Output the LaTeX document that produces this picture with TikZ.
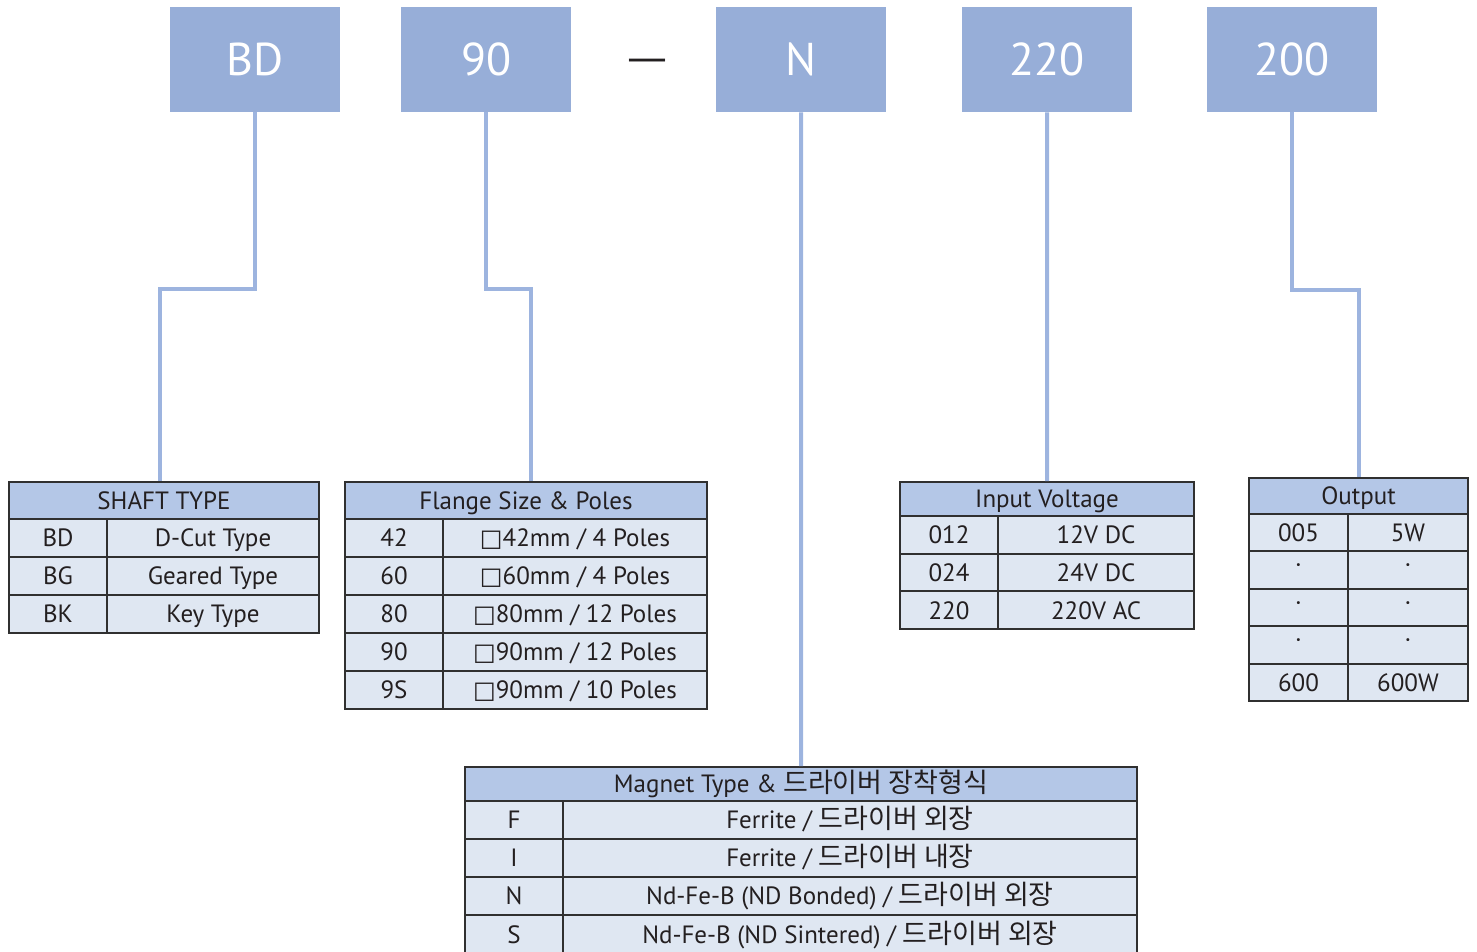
\documentclass[tikz,border=0pt]{standalone}
\usepackage{fontspec}
\setmainfont{PT Sans}
\newfontfamily\krf{Noto Sans CJK KR}
\newfontfamily\symf{DejaVu Sans}
\definecolor{topc}{HTML}{97AED8}
\definecolor{linec}{HTML}{9DB4DF}
\definecolor{hdrc}{HTML}{B4C7E7}
\definecolor{rowc}{HTML}{DFE7F2}
\definecolor{bordc}{HTML}{303030}
\definecolor{txtc}{HTML}{231F20}
\newcommand\kr[1]{{\krf\fontsize{27}{27}\selectfont #1}}
\newcommand\sqr{{\symf\fontsize{24}{24}\selectfont □}}
\newcommand\mdot{\raisebox{6pt}{·}}
% row: name, x, y, w1, w2, h, left text, right text
\newcommand\trow[8]{%
  \node[rcell,minimum width=#4pt,minimum height=#6pt] (#1a) at (#2,#3) {#7};
  \node[rcell,minimum width=#5pt,minimum height=#6pt] (#1b) at ({#2+#4},#3) {#8};}
\begin{document}
\begin{tikzpicture}[x=1pt,y=-1pt,
  topbox/.style={fill=topc, text=white, minimum width=170pt, minimum height=105pt,
    inner sep=0pt, anchor=north west, text height=31pt, text depth=0pt,
    font=\fontsize{46}{46}\selectfont},
  conn/.style={draw=linec, line width=4pt},
  hcell/.style={draw=bordc, fill=hdrc, line width=2pt, inner sep=0pt, anchor=north west,
    text=txtc, text height=17.5pt, text depth=0pt, font=\fontsize{25}{25}\selectfont},
  rcell/.style={hcell, fill=rowc}]
\useasboundingbox (0,0) rectangle (1477,951);

% top code boxes
\node[topbox] (bd) at (170,7) {BD};
\node[topbox] (n90) at (401,7) {90};
\node[text=txtc, inner sep=0pt, text height=0pt, text depth=0pt, font=\symf\fontsize{40}{40}\selectfont] (dash) at (647,71) {—};
\node[topbox] (nn) at (716,7) {N};
\node[topbox] (n220) at (962,7) {220};
\node[topbox] (n200) at (1207,7) {200};

% SHAFT TYPE
\node[hcell,minimum width=310pt,minimum height=37pt] (sh) at (8,481) {SHAFT TYPE};
\trow{sa}{8}{518}{98}{212}{38}{BD}{D-Cut Type}
\trow{sb}{8}{556}{98}{212}{38}{BG}{Geared Type}
\trow{sc}{8}{594}{98}{212}{38}{BK}{Key Type}

% Flange
\node[hcell,minimum width=362pt,minimum height=37pt] (fl) at (344,481) {Flange Size \& Poles};
\trow{fa}{344}{518}{98}{264}{38}{42}{\sqr42mm / 4 Poles}
\trow{fb}{344}{556}{98}{264}{38}{60}{\sqr60mm / 4 Poles}
\trow{fc}{344}{594}{98}{264}{38}{80}{\sqr80mm / 12 Poles}
\trow{fd}{344}{632}{98}{264}{38}{90}{\sqr90mm / 12 Poles}
\trow{fe}{344}{670}{98}{264}{38}{9S}{\sqr90mm / 10 Poles}

% Input voltage
\node[hcell,minimum width=294pt,minimum height=34pt] (iv) at (899,481) {Input Voltage};
\trow{ia}{899}{515}{98}{196}{37.7}{012}{12V DC}
\trow{ib}{899}{552.7}{98}{196}{37.7}{024}{24V DC}
\trow{ic}{899}{590.4}{98}{196}{37.7}{220}{220V AC}

% Output
\node[hcell,minimum width=219pt,minimum height=36pt] (op) at (1248,477) {Output};
\trow{oa}{1248}{513}{99}{120}{37.4}{005}{5W}
\trow{ob}{1248}{550.4}{99}{120}{37.4}{\mdot}{\mdot}
\trow{oc}{1248}{587.8}{99}{120}{37.4}{\mdot}{\mdot}
\trow{od}{1248}{625.2}{99}{120}{37.4}{\mdot}{\mdot}
\trow{oe}{1248}{662.6}{99}{120}{37.4}{600}{600W}

% Magnet type
\node[hcell,minimum width=672pt,minimum height=34pt] (mg) at (464,766) {Magnet Type \& \kr{드라이버 장착형식}};
\trow{ma}{464}{800}{98}{574}{38}{F}{Ferrite / \kr{드라이버 외장}}
\trow{mb}{464}{838}{98}{574}{38}{I}{Ferrite / \kr{드라이버 내장}}
\trow{mc}{464}{876}{98}{574}{38}{N}{Nd-Fe-B (ND Bonded) / \kr{드라이버 외장}}
\trow{md}{464}{914}{98}{574}{40}{S}{Nd-Fe-B (ND Sintered) / \kr{드라이버 외장}}

% connectors
\draw[conn] (bd.south) -- ++(0,177) -| ([xshift=-4pt]sh.north);
\draw[conn] (n90.south) -- ++(0,177) -| ([xshift=5pt]fl.north);
\draw[conn] (nn.south) -- (mg.north);
\draw[conn] (n220.south) -- (iv.north);
\draw[conn] (n200.south) -- ++(0,178) -| (op.north);
\end{tikzpicture}
\end{document}
